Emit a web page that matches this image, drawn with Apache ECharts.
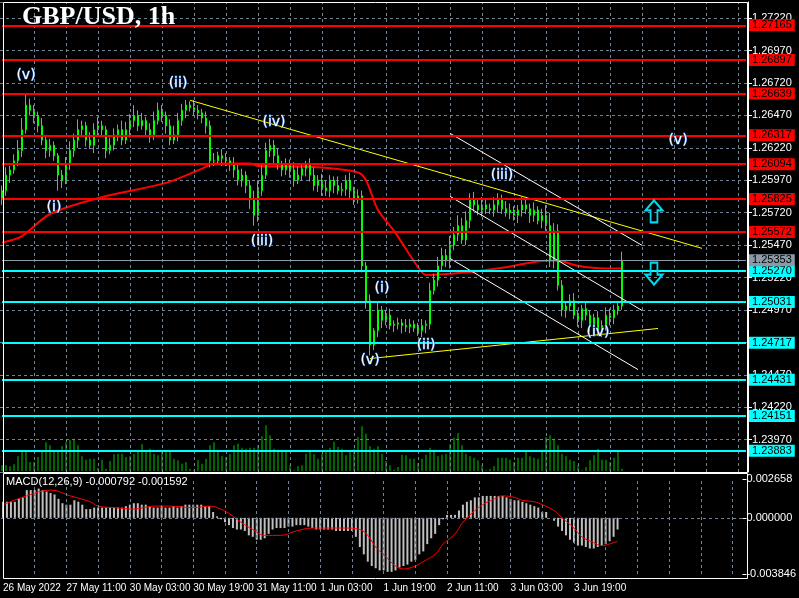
<!DOCTYPE html>
<html>
<head>
<meta charset="utf-8">
<script src="https://cdn.jsdelivr.net/npm/echarts@6/dist/echarts.min.js"></script>
<style>html,body{margin:0;padding:0;background:#000;}#chart{width:799px;height:598px;}</style>
</head>
<body>
<div id="chart"></div>
<script>
// hourly closes, GBP/USD, 26 May 19:00 .. 3 Jun 22:00
var closes = [
  1.2589,1.2601,1.2605,1.2612,1.2620,1.2636,1.2655,1.2651,1.2647,1.2639,
  1.2628,1.2620,1.2624,1.2616,1.2601,1.2597,1.2609,1.2620,1.2628,1.2636,
  1.2639,1.2628,1.2624,1.2636,1.2639,1.2636,1.2620,1.2624,1.2632,1.2636,
  1.2628,1.2636,1.2643,1.2647,1.2639,1.2643,1.2636,1.2632,1.2643,1.2651,
  1.2647,1.2639,1.2628,1.2632,1.2643,1.2651,1.2655,1.2653,1.2651,1.2649,
  1.2645,1.2639,1.2612,1.2612,1.2616,1.2614,1.2612,1.2609,1.2605,1.2597,
  1.2601,1.2593,1.2582,1.2570,1.2589,1.2601,1.2620,1.2624,1.2616,1.2609,
  1.2605,1.2609,1.2605,1.2597,1.2601,1.2606,1.2609,1.2601,1.2593,1.2597,
  1.2591,1.2589,1.2597,1.2593,1.2589,1.2590,1.2597,1.2589,1.2582,1.2585,
  1.2531,1.2504,1.2470,1.2481,1.2497,1.2489,1.2493,1.2485,1.2486,1.2487,
  1.2485,1.2484,1.2486,1.2483,1.2481,1.2485,1.2486,1.2512,1.2520,1.2531,
  1.2539,1.2535,1.2547,1.2555,1.2562,1.2551,1.2566,1.2582,1.2578,1.2574,
  1.2578,1.2575,1.2574,1.2578,1.2582,1.2575,1.2572,1.2574,1.2570,1.2574,
  1.2578,1.2575,1.2570,1.2574,1.2566,1.2570,1.2562,1.2535,1.2558,1.2516,
  1.2497,1.2500,1.2504,1.2493,1.2489,1.2498,1.2493,1.2485,1.2491,1.2481,
  1.2485,1.2493,1.2491,1.2497,1.2500,1.2535
];
var firstOpen = 1.2583;
// wick sizes above / below the body, pips
var hiW = [4,6,3,5,8,9,8,5,4,3, 6,4,5,3,2,4,6,7,5,8, 4,3,6,5,7,4,3,6,5,4, 7,6,5,8,4,6,3,5,7,6,
  4,3,5,7,6,5,4,3,6,4, 3,5,4,6,3,5,4,3,6,4, 5,3,4,7,8,9,6,5,4,6, 3,5,4,6,7,4,3,5,6,4,
  5,6,4,3,7,5,4,6,3,5, 4,3,5,2,6,3,4,5,3,4, 3,5,4,3,4,5,3,6,5,7, 6,5,7,6,8,6,7,5,6,4,
  6,5,4,6,5,4,6,5,3,4, 6,5,4,6,3,5,8,10,6,5, 4,3,5,6,4,3,5,4,3,5, 4,6,5,4,3,7];
var loW = [5,4,6,3,4,5,3,4,6,5, 4,6,5,4,12,6,3,4,5,6, 4,5,3,6,4,5,6,3,4,5, 4,3,6,5,4,3,5,6,4,3,
  5,6,4,3,5,4,6,3,4,5, 4,6,5,4,3,6,4,5,6,4, 5,6,7,8,5,4,3,5,6,4, 5,4,6,5,3,4,6,5,4,5,
  6,4,5,6,3,4,5,6,4,3, 5,6,8,4,5,6,4,3,5,4, 6,4,5,3,4,5,6,4,3,5, 4,5,6,4,5,3,4,6,5,4,
  5,4,3,5,6,4,3,5,4,6, 5,4,6,5,3,6,4,5,6,4, 5,6,4,3,5,6,4,5,6,4, 5,4,6,5,4,3];
var volumes = [17,17,14,20,44,60,60,27,27,42, 60,86,77,60,60,75,86,94,97,77, 44,34,37,37,10,34,7,30,50,52,
  52,42,44,52,60,80,60,67,52,47, 60,57,60,37,32,22,27,7,4,32, 22,37,77,86,60,44,42,52,77,82,
  70,67,70,70,77,104,137,107,67,64, 64,64,17,2,14,17,52,57,50,37, 52,60,70,88,72,67,47,60,67,102,
  134,112,74,67,
  74,52,30,17,4,12,49,47,37,37, 24,37,49,70,64,44,49,52,80,100, 114,77,52,44,40,32,17,2,7,14,
  40,40,40,34,27,40,40,57,44,40, 37,64,102,107,97,77,52,44,34,30, 17,2,12,32,47,67,34,34,27,40, 57,7];
// MACD main, units of 1e-4
var macdMain = [11,11,11,11,13,14,19,19,19,20, 19,18,17,16,13,10,9,9,12,11, 9,6,6,7,7,7,7,7,7,7,
  7,8,9,10,10,9,9,8,7,7, 8,7,7,8,7,8,9,9,9,9, 9,8,8,4,1,-1,-3,-5,-7,-8,
  -8,-9,-12,-13,-15,-15,-14,-11,-8,-7, -7,-7,-6,-6,-5,-5,-5,-6,-7,-8, -8,-8,-8,-8,-9,-9,-9,-9,-9,-13,
  -20,-25,-30,-33,
  -34.5,-36,-36,-37,-37,-36,-34,-33,-32,-30, -29,-25,-23,-18,-14,-11,-5,-1,2,2, 2,5,9,11,12,14,14,15,15,15,
  15,15,15,14,13,12,12,11,10,9, 8,7,4,4,0,-2,-6,-9,-12,-15, -17,-19,-19,-20,-21,-21,-20,-19,-18,-16, -13,-8];
// MACD signal, [bar, value 1e-4]
var macdSignal = [[0,9],[6,15],[12,19],[17,15],[22,11],[24,8],[28,7],[33,6],[38,8],[42,8],[48,7],[52,8],[54,7],
  [57,3],[60,-3],[63,-8],[66,-12],[70,-12],[74,-9],[78,-7],[82,-7],[86,-7],[90,-8],[92,-12],[94,-20],[96,-25],
  [99,-33],[101,-35],[104,-33],[106,-30],[109,-25],[111,-18],[114,-11],[116,-3],[119,5],[121,9],[124,13],[126,15],
  [129,14],[131,12],[134,11],[136,9],[139,5],[141,0],[144,-7],[146,-13],[149,-17],[151,-19],[154,-17],[155,-16]];
// moving average, [bar, price]
var maLine = [[0,1.2549],[5,1.2554],[12,1.2571],[25,1.2584],[41,1.2595],[50,1.2606],[53,1.2610],[62,1.2610],
  [64,1.2608],[79,1.2607],[89,1.2603],[91,1.2597],[94,1.2574],[98,1.2558],[104,1.2530],[106,1.2524],
  [116,1.2526],[126,1.2530],[136,1.2535],[139,1.2535],[144,1.2531],[151,1.2529],[155,1.2529]];
var redLevels = [1.27165,1.26897,1.26639,1.26317,1.26094,1.25825,1.25572];
var cyanLevels = [1.25270,1.25031,1.24717,1.24431,1.24151,1.23883];
var lastPrice = 1.25353;
var trendLines = [
  {c: '#ffff00', a: [47,1.26587], b: [175,1.25445]},
  {c: '#ffff00', a: [92,1.24595], b: [164,1.24827]},
  {c: '#ffffff', a: [112,1.26332], b: [160,1.25468]},
  {c: '#ffffff', a: [112,1.25846], b: [160,1.24966]},
  {c: '#ffffff', a: [112,1.25367], b: [159,1.24510]}
];
var waves = [['(v)',6,1.2678],['(ii)',44,1.2672],['(iv)',68,1.2642],['(i)',13,1.2576],['(iii)',65,1.2550],
  ['(v)',92,1.2458],['(i)',95,1.2514],['(ii)',106,1.2470],['(iii)',125,1.2601],['(iv)',149,1.2480],['(v)',169,1.2628]];
var tickLabels = ['26 May 2022','27 May 11:00','30 May 03:00','30 May 19:00','31 May 11:00',
  '1 Jun 03:00','1 Jun 19:00','2 Jun 11:00','3 Jun 03:00','3 Jun 19:00'];
var nSlots = 187;

var cats = [];
for (var i = 0; i < nSlots; i++) cats.push(i % 16 === 0 && tickLabels[i / 16] ? tickLabels[i / 16] : '');

var candles = closes.map(function (c, i) {
  var o = i ? closes[i - 1] : firstOpen;
  return [o, c, Math.min(o, c) - loW[i] * 1e-4, Math.max(o, c) + hiW[i] * 1e-4];
});

var gridColor = '#6f8296';
function vLines() {
  var out = [];
  for (var k = 8; k < nSlots; k += 8) out.push({xAxis: k});
  return out;
}

// horizontal levels as two-point lines so the value is not rounded
function level(v, bg) {
  return [{coord: [0, v], lineStyle: {color: bg, width: v === lastPrice ? 1 : 2, type: 'solid'},
    label: {show: true, position: 'end', distance: 3, formatter: v.toFixed(5), color: '#000',
      backgroundColor: bg, padding: [1, 3, 0, 3], fontSize: 11, fontFamily: 'Liberation Sans'}},
    {coord: [nSlots - 1, v]}];
}
var levelData = redLevels.map(function (v) { return level(v, '#ff0000'); })
  .concat(cyanLevels.map(function (v) { return level(v, '#00ffff'); }));
levelData.push(level(lastPrice, '#8a9aa8'));

var trendData = trendLines.map(function (t) {
  return [{coord: t.a, lineStyle: {color: t.c, width: 1, type: 'solid'}}, {coord: t.b}];
});

var wavePts = waves.map(function (w) {
  return {coord: [w[1], w[2]], value: w[0], symbol: 'circle', symbolSize: 1,
    itemStyle: {color: 'transparent'},
    label: {show: true, formatter: w[0], position: 'inside', color: '#fff', fontSize: 14,
      fontFamily: 'DejaVu Sans', textBorderColor: '#2a6fd0', textBorderWidth: 1}};
});
var arrowStyle = {color: 'rgba(0,0,0,0)', borderColor: '#00d8f0', borderWidth: 2};
wavePts.push({coord: [163, 1.2573], symbol: 'path://M10,0 L20,10 L14,10 L14,22 L6,22 L6,10 L0,10 Z',
  symbolSize: [17, 22], itemStyle: arrowStyle, label: {show: false}});
wavePts.push({coord: [163, 1.2525], symbol: 'path://M6,0 L14,0 L14,12 L20,12 L10,22 L0,12 L6,12 Z',
  symbolSize: [17, 22], itemStyle: arrowStyle, label: {show: false}});

var font = 'Liberation Sans';
var chart = echarts.init(document.getElementById('chart'));
chart.setOption({
  backgroundColor: '#000',
  animation: false,
  grid: [
    {left: 0, right: 51, top: 2, bottom: 126},
    {left: 0, right: 51, top: 420, bottom: 127},
    {left: 0, right: 51, top: 479, bottom: 24}
  ],
  xAxis: [0, 1, 2].map(function (g) {
    return {type: 'category', gridIndex: g, data: cats, boundaryGap: true,
      axisLine: {show: false}, axisTick: {show: false}, splitLine: {show: false},
      axisLabel: g === 2 ? {show: true, interval: 0, align: 'left', margin: 9, color: '#fff',
        fontSize: 10, fontFamily: font,
        formatter: function (v) { return v; }} : {show: false}};
  }),
  yAxis: [
    {type: 'value', gridIndex: 0, position: 'right', min: 1.2372, max: 1.27345, interval: 0.0025,
      axisLine: {show: true, lineStyle: {color: '#fff'}}, axisTick: {show: true, length: 4, lineStyle: {color: '#fff'}},
      axisLabel: {color: '#fff', fontSize: 11, fontFamily: font, margin: 4, showMinLabel: false, showMaxLabel: false,
        formatter: function (v) { return v.toFixed(5); }},
      splitLine: {show: true, lineStyle: {color: gridColor, type: [3, 3]}}},
    {type: 'value', gridIndex: 1, min: 0, max: 153, show: false},
    {type: 'value', gridIndex: 2, position: 'right', min: -0.003846, max: 0.002658,
      axisLine: {show: false},
      axisTick: {show: true, length: 4, lineStyle: {color: '#fff'}, customValues: [-0.003846, 0, 0.002658]},
      axisLabel: {color: '#fff', fontSize: 11, fontFamily: font, margin: 4,
        customValues: [-0.003846, 0, 0.002658], formatter: function (v) { return v.toFixed(6); }},
      splitLine: {show: false}}
  ],
  series: [
    {type: 'line', xAxisIndex: 0, yAxisIndex: 0, data: [], silent: true,
      markLine: {silent: true, symbol: 'none', animation: false, label: {show: false},
        lineStyle: {color: gridColor, type: [3, 3], width: 1}, data: vLines()}},
    {type: 'candlestick', xAxisIndex: 0, yAxisIndex: 0, data: candles, barMaxWidth: 3, z: 4,
      itemStyle: {color: '#000', color0: '#fff', borderColor: '#00ff00', borderColor0: '#00ff00', borderWidth: 1}},
    {type: 'line', xAxisIndex: 0, yAxisIndex: 0, data: maLine, smooth: 0.3, showSymbol: false,
      lineStyle: {color: '#ff0000', width: 2}, z: 3,
      markLine: {silent: true, symbol: 'none', animation: false, label: {show: false},
        data: trendData.concat(levelData)},
      markPoint: {silent: true, animation: false, data: wavePts}},
    {type: 'bar', xAxisIndex: 1, yAxisIndex: 1, data: volumes, barWidth: 1,
      itemStyle: {color: '#00c800'}},
    {type: 'bar', xAxisIndex: 2, yAxisIndex: 2, data: macdMain.map(function (v) { return v * 1e-4; }),
      barWidth: 2, itemStyle: {color: '#c0c0c0'},
      markLine: {silent: true, symbol: 'none', label: {show: false},
        lineStyle: {color: gridColor, type: [3, 3], width: 1},
        data: [{yAxis: 0}].concat(vLines())}},
    {type: 'line', xAxisIndex: 2, yAxisIndex: 2, data: macdSignal.map(function (p) { return [p[0], p[1] * 1e-4]; }),
      smooth: 0.4, showSymbol: false, lineStyle: {color: '#ff0000', width: 1}}
  ],
  graphic: [
    {type: 'rect', shape: {x: 3.5, y: 2.5, width: 744, height: 470}, style: {fill: 'none', stroke: '#fff', lineWidth: 1}, z: 50},
    {type: 'rect', shape: {x: 3.5, y: 473.5, width: 744, height: 105}, style: {fill: 'none', stroke: '#fff', lineWidth: 1}, z: 50},
    {type: 'text', left: 22, top: 4, z: 60, style: {text: 'GBP/USD, 1h', fill: '#fff',
      font: 'bold 26px "Liberation Serif"'}},
    {type: 'text', left: 6, top: 476, z: 60, style: {text: 'MACD(12,26,9) -0.000792 -0.001592', fill: '#fff',
      font: '11px "Liberation Sans"'}}
  ]
});
</script>
</body>
</html>
